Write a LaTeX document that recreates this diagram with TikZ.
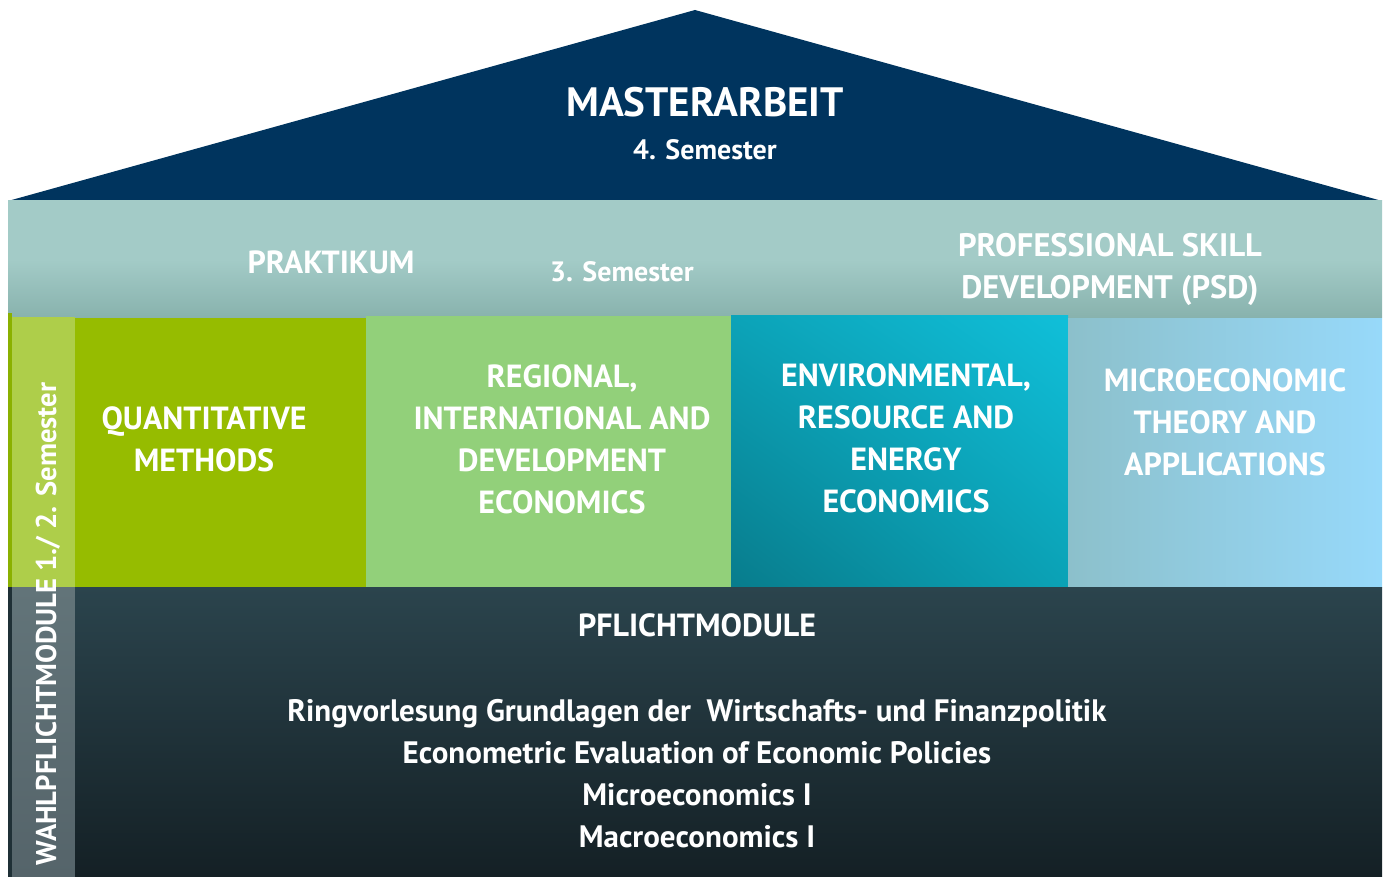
\documentclass[tikz,border=0pt]{standalone}
\usepackage{fontspec}
\setmainfont{PT Sans}
\usetikzlibrary{shadings}
\definecolor{roof}{HTML}{00345E}
\definecolor{praktA}{HTML}{A3CBC7}
\definecolor{praktB}{HTML}{88B2AD}
\definecolor{quant}{HTML}{96BC00}
\definecolor{quantL}{HTML}{AECE4A}
\definecolor{quantD}{HTML}{8AB000}
\definecolor{regio}{HTML}{92D07A}
\definecolor{envLL}{HTML}{087C8C}
\definecolor{envUR}{HTML}{10BFD9}
\definecolor{envUL}{HTML}{0CA3B8}
\definecolor{envLR}{HTML}{0BA2B6}
\definecolor{microL}{HTML}{8CC0CB}
\definecolor{microR}{HTML}{97D9FA}
\definecolor{pflT}{HTML}{2B444D}
\definecolor{pflB}{HTML}{142025}
\definecolor{stripT}{HTML}{627479}
\definecolor{stripB}{HTML}{55646A}
\definecolor{stripD}{HTML}{1F3036}
\begin{document}
\begin{tikzpicture}[x=1pt,y=-1pt,
  lbl/.style={text=white,align=center,inner sep=0pt,font=\bfseries\fontsize{#1}{42}\selectfont},
  lbl/.default=32]
\useasboundingbox (0,0) rectangle (1385,877);
% roof
\fill[roof] (8,201) -- (695,10) -- (1382,201) -- cycle;
% praktikum band
\shade[top color=praktA,bottom color=praktB,middle color=praktA] (8,201) rectangle (1382,318);
% left strip
\fill[quantD] (8,313) rectangle (12,587);
\fill[quantL] (12,317) rectangle (75,587);
\shade[top color=stripT,bottom color=stripB] (12,587) rectangle (75,877);
\fill[stripD] (8,587) rectangle (12,877);
% module boxes
\fill[quant] (75,318) rectangle (366,587);
\fill[regio] (366,316) rectangle (731,587);
\shade[lower left=envLL,upper right=envUR,upper left=envUL,lower right=envLR] (731,316) rectangle (1068,587);
\shade[left color=microL,right color=microR] (1068,319) rectangle (1382,587);
% pflicht
\shade[top color=pflT,bottom color=pflB] (75,587) rectangle (1382,877);
% texts
\node[lbl=41] (master) at (705,102) {MASTERARBEIT};
\node[lbl=28] (sem4) at (705,150) {4. Semester};
\node[lbl=32] (prakt) at (331,262) {PRAKTIKUM};
\node[lbl=28] (sem3) at (622,272) {3. Semester};
\node[lbl=32.5] (psd) at (1110,269) {PROFESSIONAL SKILL\\DEVELOPMENT (PSD)};
\node[lbl=32] (qm) at (204,439) {QUANTITATIVE\\METHODS};
\node[lbl=32] (rid) at (562,439.5) {REGIONAL,\\INTERNATIONAL AND\\DEVELOPMENT\\ECONOMICS};
\node[lbl=32] (ere) at (906,438) {ENVIRONMENTAL,\\RESOURCE AND\\ENERGY\\ECONOMICS};
\node[lbl=32] (mta) at (1225,422) {MICROECONOMIC\\THEORY AND\\APPLICATIONS};
\node[lbl=32] (pfl) at (697,625) {PFLICHTMODULE};
\node[lbl=31] (list) at (697,774) {Ringvorlesung Grundlagen der\ \ Wirtschafts- und Finanzpolitik\\Econometric Evaluation of Economic Policies\\Microeconomics I\\Macroeconomics I};
\node[lbl=28.6,rotate=90] (wahl) at (48,624) {WAHLPFLICHTMODULE 1./ 2. Semester};
\end{tikzpicture}
\end{document}
